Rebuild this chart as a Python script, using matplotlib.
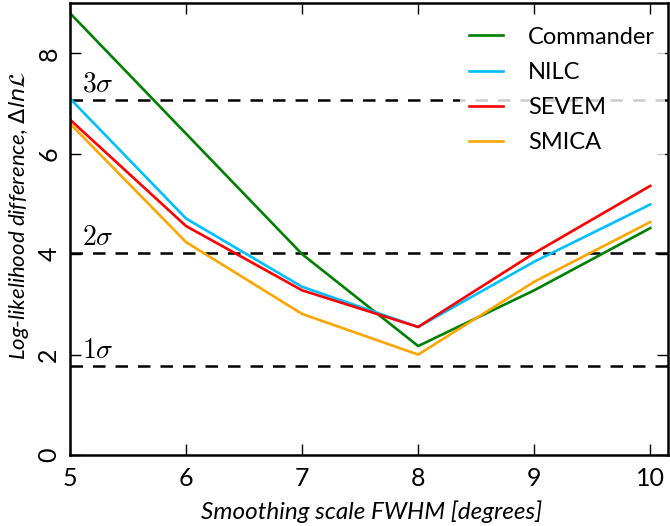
import numpy as np
import matplotlib
import matplotlib.pyplot as plt

matplotlib.use('agg')
plt.rcParams.update({
    "font.family": ["Lato", "DejaVu Sans"],
    "font.size": 17,
    "xtick.direction": "in",
    "ytick.direction": "in",
    "xtick.top": True,
    "ytick.right": True,
    "xtick.major.size": 8,
    "ytick.major.size": 8,
    "xtick.major.width": 1.0,
    "ytick.major.width": 1.0,
    "axes.linewidth": 1.8,
})

fwhm = [5, 6, 7, 8, 9, 10]
commander = [8.80, 6.40, 4.00, 2.17, 3.28, 4.52]
nilc = [7.10, 4.71, 3.35, 2.55, 3.85, 4.99]
sevem = [6.68, 4.56, 3.28, 2.55, 4.02, 5.36]
smica = [6.60, 4.24, 2.81, 2.00, 3.45, 4.64]

series = [("Commander", commander, "green"),
          ("NILC", nilc, "deepskyblue"),
          ("SEVEM", sevem, "red"),
          ("SMICA", smica, "orange")]

sigma_levels = [1.78, 4.02, 7.08]
sigma_labels = [r"$1\sigma$", r"$2\sigma$", r"$3\sigma$"]

fig = plt.figure(figsize=(6.7, 5.26), dpi=100)
ax = fig.add_axes([0.1045, 0.135, 0.892, 0.859])

for lev, lab in zip(sigma_levels, sigma_labels):
    ax.axhline(lev, color="black", ls=(0, (5, 4)), lw=1.8, zorder=1)
    ax.text(5.1, lev + 0.06, lab, fontsize=20, math_fontfamily="cm",
            ha="left", va="bottom")

for name, vals, col in series:
    ax.plot(fwhm, vals, color=col, lw=1.9, label=name, zorder=2)

ax.set_xlim(5, 10.15)
ax.set_ylim(0, 9)
ax.set_xticks([5, 6, 7, 8, 9, 10])
ax.set_yticks([0, 2, 4, 6, 8])
ax.tick_params(labelsize=18)
for lbl in ax.get_yticklabels():
    lbl.set_rotation(90)
    lbl.set_va("center")
ax.tick_params(axis="x", pad=9)
ax.tick_params(axis="y", pad=7)

ax.set_xlabel("Smoothing scale FWHM [degrees]", style="italic", fontsize=17.5)
ax.set_ylabel(r"Log-likelihood difference, $\Delta ln\mathcal{L}$",
              style="italic", math_fontfamily="dejavusans", fontsize=16)
ax.yaxis.set_label_coords(-0.066, 0.53)
ax.xaxis.set_label_coords(0.505, -0.1)

leg = ax.legend(loc="upper right", bbox_to_anchor=(0.995, 0.969),
                borderaxespad=0, handlelength=1.45, handletextpad=1.06,
                framealpha=0.8, edgecolor="none", fancybox=False,
                labelspacing=0.6)

plt.savefig("out.png", dpi=100)
